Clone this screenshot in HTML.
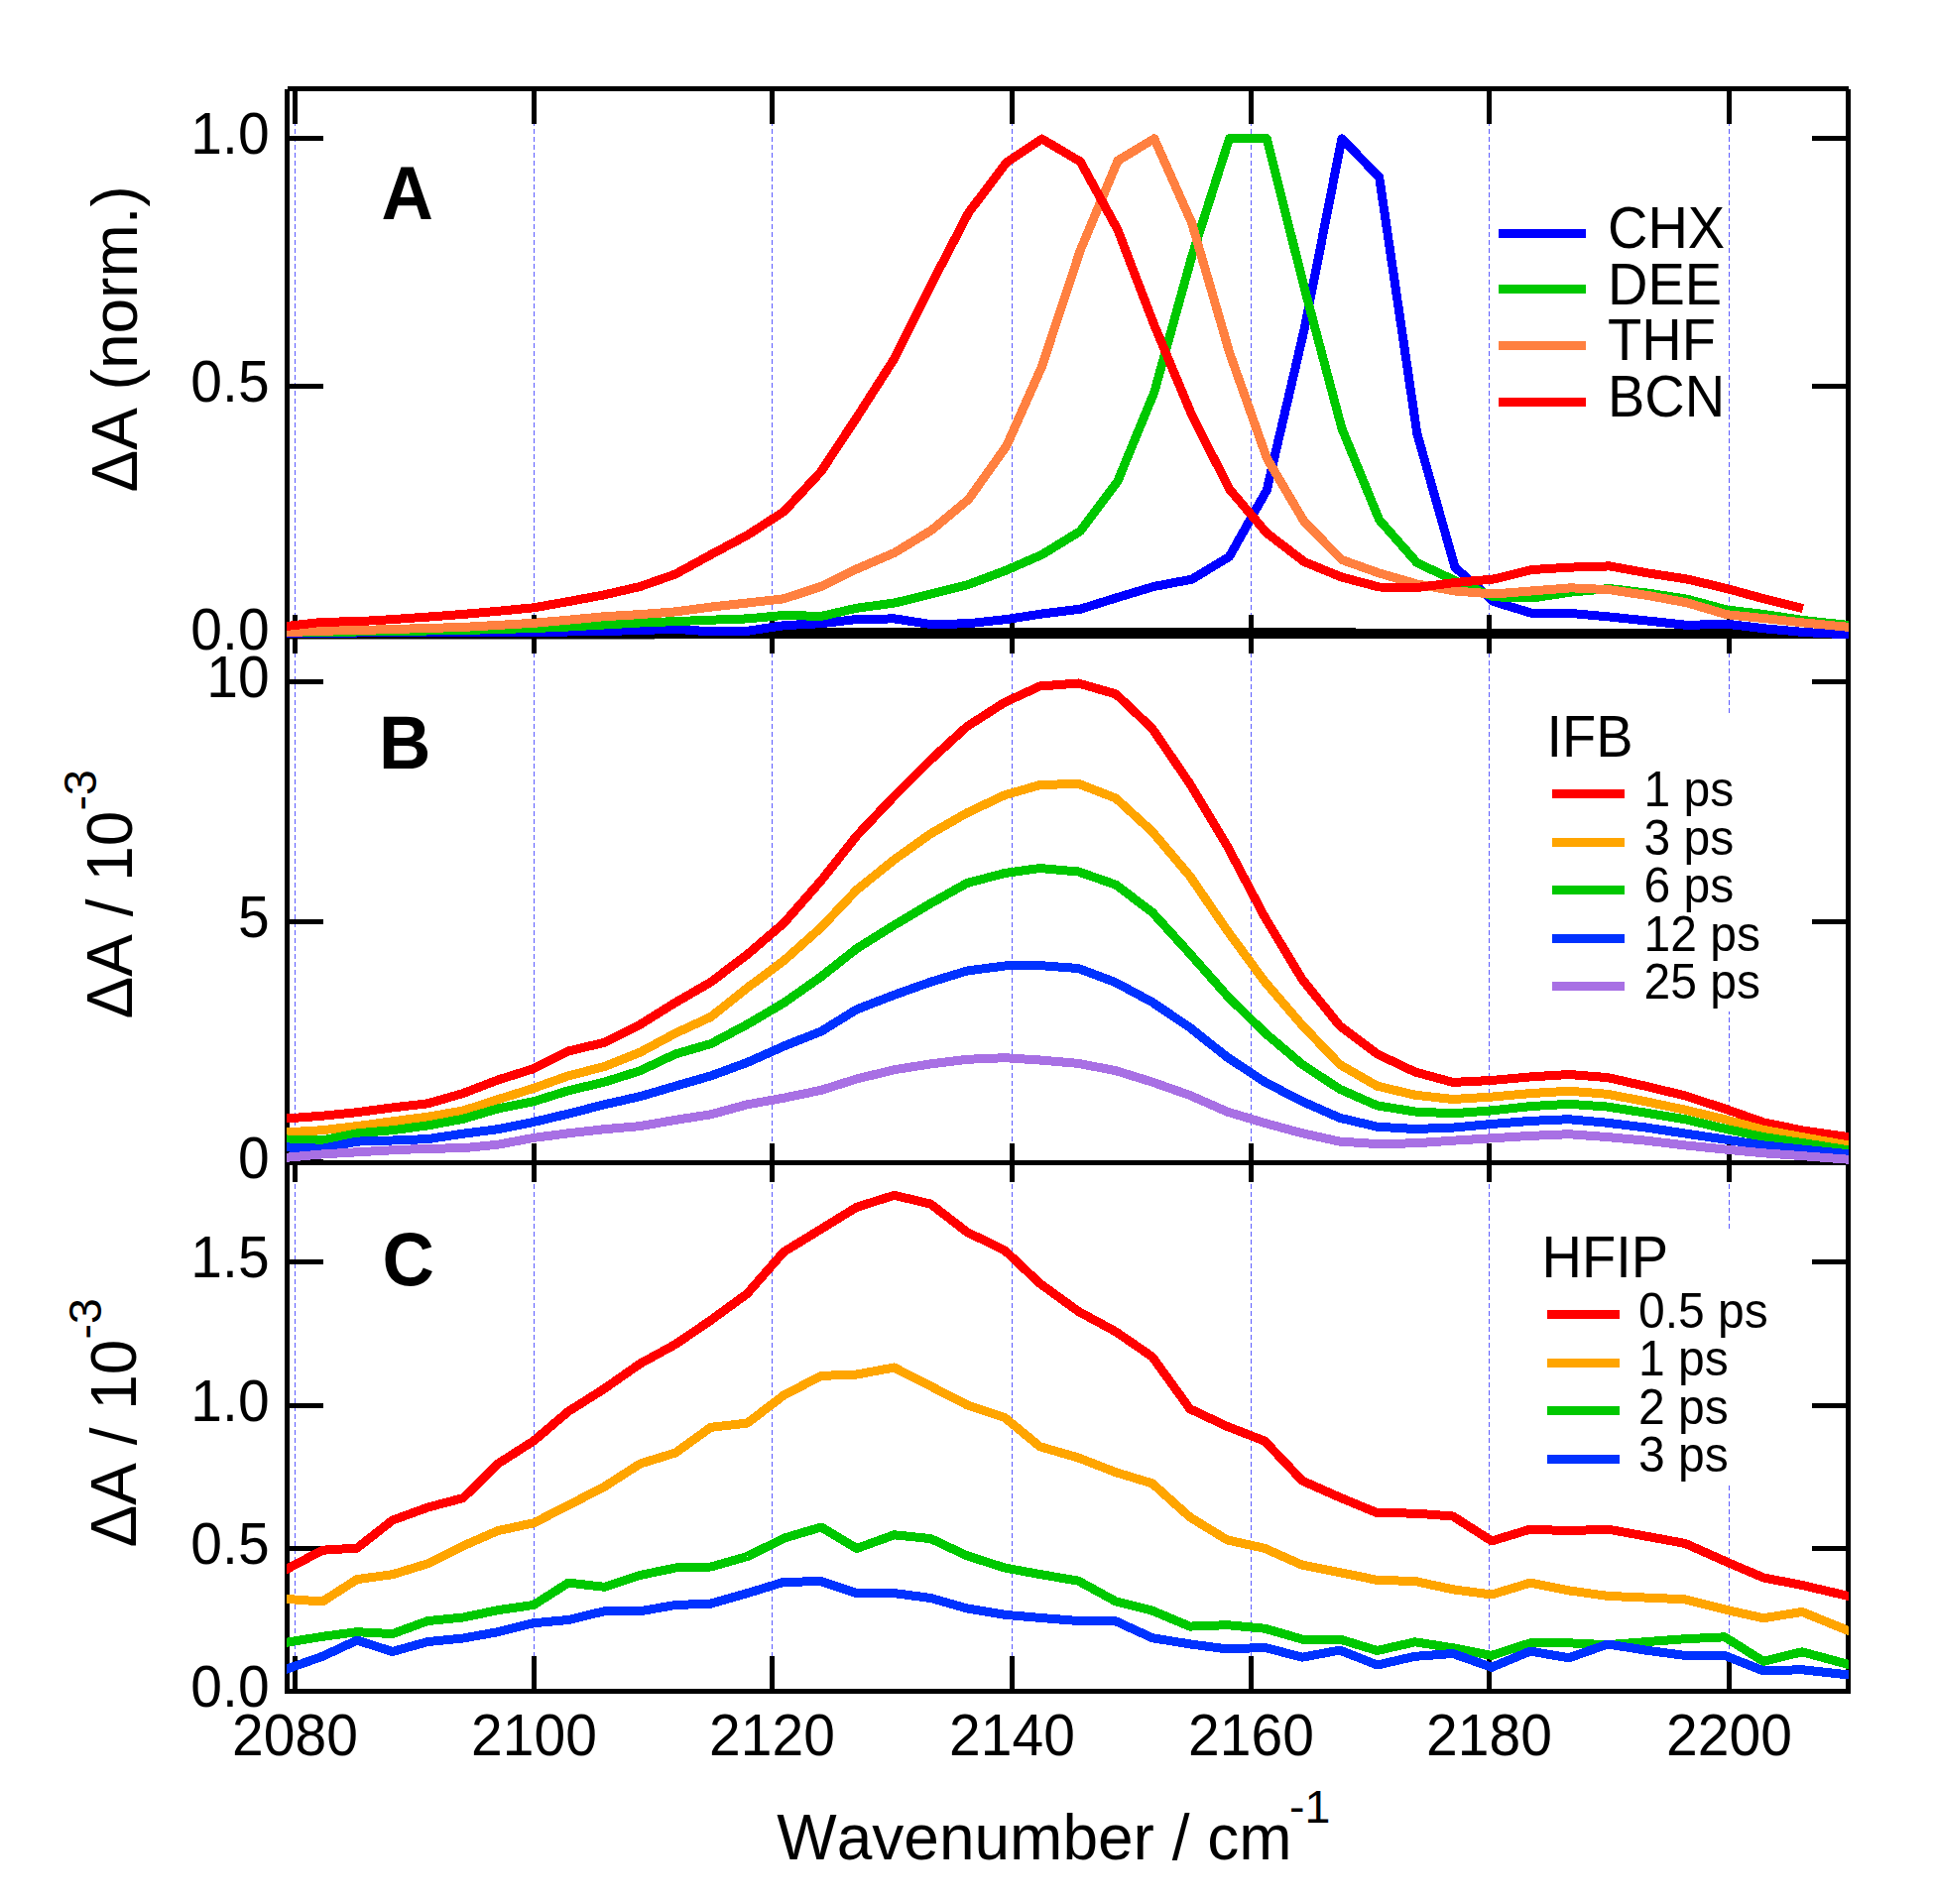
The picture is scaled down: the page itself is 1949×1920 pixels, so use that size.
<!DOCTYPE html>
<html lang="en"><head><meta charset="utf-8"><title>Transient IR spectra</title>
<style>html,body{margin:0;padding:0;background:#fff}svg{display:block}text{font-kerning:none;font-family:"Liberation Sans",Arial,Helvetica,sans-serif;fill:#000}</style>
</head><body>
<svg width="1949" height="1920" viewBox="0 0 1949 1920">
<rect width="1949" height="1920" fill="#fff"/>
<defs>
<clipPath id="cpA"><rect x="289.0" y="89.5" width="1575.0" height="555.0"/></clipPath>
<clipPath id="cpB"><rect x="289.0" y="641.5" width="1575.0" height="534.0"/></clipPath>
<clipPath id="cpC"><rect x="289.0" y="1172.5" width="1575.0" height="536.0"/></clipPath>
</defs>
<g stroke="#5c5cff" stroke-width="1" stroke-dasharray="5 3" shape-rendering="crispEdges">
<line x1="297.5" y1="90" x2="297.5" y2="1705.5"/>
<line x1="538.5" y1="90" x2="538.5" y2="1705.5"/>
<line x1="778.5" y1="90" x2="778.5" y2="1705.5"/>
<line x1="1020.5" y1="90" x2="1020.5" y2="1705.5"/>
<line x1="1261.5" y1="90" x2="1261.5" y2="1705.5"/>
<line x1="1501.5" y1="90" x2="1501.5" y2="1705.5"/>
<line x1="1743.5" y1="90" x2="1743.5" y2="1705.5"/>
</g>
<rect x="1548" y="720" width="250" height="300" fill="#fff"/>
<rect x="1548" y="1241" width="250" height="255" fill="#fff"/>
<g stroke="#000" stroke-width="5" fill="none" shape-rendering="crispEdges">
<line x1="289.5" y1="89.5" x2="289.5" y2="1708.0"/>
<line x1="1863.5" y1="89.5" x2="1863.5" y2="1708.0"/>
<line x1="289.5" y1="89.5" x2="1863.5" y2="89.5"/>
<line x1="287.0" y1="1705.5" x2="1866.0" y2="1705.5"/>
<line x1="289.5" y1="641.5" x2="1863.5" y2="641.5"/>
<line x1="289.5" y1="1172.5" x2="1863.5" y2="1172.5"/>
<line x1="297.5" y1="89.5" x2="297.5" y2="125"/>
<line x1="297.5" y1="620" x2="297.5" y2="659"/>
<line x1="297.5" y1="1153" x2="297.5" y2="1192"/>
<line x1="297.5" y1="1670" x2="297.5" y2="1705.5"/>
<line x1="538.5" y1="89.5" x2="538.5" y2="125"/>
<line x1="538.5" y1="620" x2="538.5" y2="659"/>
<line x1="538.5" y1="1153" x2="538.5" y2="1192"/>
<line x1="538.5" y1="1670" x2="538.5" y2="1705.5"/>
<line x1="778.5" y1="89.5" x2="778.5" y2="125"/>
<line x1="778.5" y1="620" x2="778.5" y2="659"/>
<line x1="778.5" y1="1153" x2="778.5" y2="1192"/>
<line x1="778.5" y1="1670" x2="778.5" y2="1705.5"/>
<line x1="1020.5" y1="89.5" x2="1020.5" y2="125"/>
<line x1="1020.5" y1="620" x2="1020.5" y2="659"/>
<line x1="1020.5" y1="1153" x2="1020.5" y2="1192"/>
<line x1="1020.5" y1="1670" x2="1020.5" y2="1705.5"/>
<line x1="1261.5" y1="89.5" x2="1261.5" y2="125"/>
<line x1="1261.5" y1="620" x2="1261.5" y2="659"/>
<line x1="1261.5" y1="1153" x2="1261.5" y2="1192"/>
<line x1="1261.5" y1="1670" x2="1261.5" y2="1705.5"/>
<line x1="1501.5" y1="89.5" x2="1501.5" y2="125"/>
<line x1="1501.5" y1="620" x2="1501.5" y2="659"/>
<line x1="1501.5" y1="1153" x2="1501.5" y2="1192"/>
<line x1="1501.5" y1="1670" x2="1501.5" y2="1705.5"/>
<line x1="1743.5" y1="89.5" x2="1743.5" y2="125"/>
<line x1="1743.5" y1="620" x2="1743.5" y2="659"/>
<line x1="1743.5" y1="1153" x2="1743.5" y2="1192"/>
<line x1="1743.5" y1="1670" x2="1743.5" y2="1705.5"/>
<line x1="289.5" y1="139.5" x2="326" y2="139.5"/>
<line x1="1827" y1="139.5" x2="1863.5" y2="139.5"/>
<line x1="289.5" y1="389.5" x2="326" y2="389.5"/>
<line x1="1827" y1="389.5" x2="1863.5" y2="389.5"/>
<line x1="289.5" y1="639.5" x2="326" y2="639.5"/>
<line x1="1827" y1="639.5" x2="1863.5" y2="639.5"/>
<line x1="289.5" y1="687.5" x2="326" y2="687.5"/>
<line x1="1827" y1="687.5" x2="1863.5" y2="687.5"/>
<line x1="289.5" y1="929.5" x2="326" y2="929.5"/>
<line x1="1827" y1="929.5" x2="1863.5" y2="929.5"/>
<line x1="289.5" y1="1171.5" x2="326" y2="1171.5"/>
<line x1="1827" y1="1171.5" x2="1863.5" y2="1171.5"/>
<line x1="289.5" y1="1272.5" x2="326" y2="1272.5"/>
<line x1="1827" y1="1272.5" x2="1863.5" y2="1272.5"/>
<line x1="289.5" y1="1417.5" x2="326" y2="1417.5"/>
<line x1="1827" y1="1417.5" x2="1863.5" y2="1417.5"/>
<line x1="289.5" y1="1561.5" x2="326" y2="1561.5"/>
<line x1="1827" y1="1561.5" x2="1863.5" y2="1561.5"/>
</g>
<g clip-path="url(#cpA)" shape-rendering="crispEdges">
<polyline points="285.0,640.0 660.0,640.0 850.0,637.3 1240.0,637.3 1420.0,638.3 1868.0,638.8" fill="none" stroke="#000" stroke-width="9" stroke-linejoin="round" stroke-linecap="butt"/>
<polyline points="284.5,638.4 289.5,638.5 325.2,639.0 360.0,638.0 395.7,637.5 431.3,637.5 467.0,637.5 502.0,637.5 538.2,637.5 573.0,637.0 609.5,636.5 645.5,635.5 681.0,634.3 716.7,636.9 753.5,636.3 790.3,630.7 828.0,628.7 863.8,624.5 902.1,623.9 939.4,629.7 976.6,628.7 1015.0,624.5 1050.5,619.0 1089.3,614.2 1127.1,602.4 1163.8,591.4 1201.7,584.2 1239.5,561.4 1277.3,494.2 1315.1,332.1 1352.9,139.8 1390.7,178.7 1428.8,437.2 1467.0,572.1 1506.0,606.6 1545.0,618.5 1584.0,618.5 1623.0,622.0 1662.0,626.1 1701.0,630.4 1741.0,629.2 1780.0,633.9 1819.0,637.5 1863.5,639.9 1868.5,640.2" fill="none" stroke="#0000ff" stroke-width="9" stroke-linejoin="round" stroke-linecap="butt"/>
<polyline points="284.5,638.1 289.5,638.0 325.2,637.5 360.0,637.0 395.7,636.5 431.3,636.0 467.0,635.5 502.0,634.5 538.2,633.5 573.0,632.0 609.5,630.0 645.5,628.0 681.0,626.6 716.7,625.2 753.5,623.9 790.3,620.4 828.0,621.4 863.8,613.2 902.1,608.0 939.4,598.7 976.6,589.4 1015.0,574.9 1050.5,559.4 1089.3,535.5 1127.1,484.9 1163.8,395.5 1201.7,258.6 1239.5,139.8 1277.3,139.8 1315.1,290.1 1352.9,432.0 1390.7,524.2 1428.8,567.6 1467.0,585.5 1506.0,601.8 1545.0,603.0 1584.0,597.1 1623.0,593.5 1662.0,598.2 1701.0,604.2 1741.0,614.9 1780.0,619.7 1819.0,625.6 1863.5,630.4 1868.5,630.9" fill="none" stroke="#00c800" stroke-width="9" stroke-linejoin="round" stroke-linecap="butt"/>
<polyline points="284.5,637.8 289.5,637.6 325.2,636.2 360.0,635.6 395.7,634.5 431.3,633.5 467.0,632.4 502.0,630.4 538.2,628.3 573.0,625.2 609.5,621.7 645.5,619.6 681.0,616.9 716.7,612.1 753.5,608.0 790.3,603.8 828.0,591.4 863.8,573.8 902.1,557.3 939.4,534.5 976.6,503.5 1015.0,449.5 1050.5,369.5 1089.3,252.3 1127.1,162.0 1163.8,139.8 1201.7,225.0 1239.5,355.0 1277.3,462.0 1315.1,526.2 1352.9,564.5 1390.7,578.0 1428.8,589.0 1467.0,596.0 1506.0,599.0 1545.0,595.9 1584.0,592.8 1623.0,594.7 1662.0,600.6 1701.0,607.8 1741.0,619.7 1780.0,623.7 1819.0,628.0 1863.5,632.3 1868.5,632.8" fill="none" stroke="#ff8040" stroke-width="9" stroke-linejoin="round" stroke-linecap="butt"/>
<polyline points="284.5,632.0 289.5,631.4 325.2,627.3 360.0,626.7 395.7,624.6 431.3,622.1 467.0,619.4 502.0,616.3 538.2,612.8 573.0,606.6 609.5,599.8 645.5,591.5 681.0,579.0 716.7,559.4 753.5,539.7 790.3,515.9 828.0,475.3 863.8,421.0 902.1,361.0 939.4,285.9 976.6,214.5 1015.0,163.6 1050.5,140.0 1089.3,163.0 1127.1,232.0 1163.8,327.9 1201.7,418.5 1239.5,493.1 1277.3,537.6 1315.1,566.6 1352.9,582.1 1390.7,592.0 1428.8,592.5 1467.0,587.5 1506.0,584.0 1545.0,574.5 1584.0,572.1 1623.0,570.9 1662.0,578.0 1701.0,584.0 1741.0,593.5 1780.0,604.2 1817.9,613.7" fill="none" stroke="#ff0000" stroke-width="9" stroke-linejoin="round" stroke-linecap="butt"/>
</g>
<g clip-path="url(#cpB)" shape-rendering="crispEdges">
<polyline points="284.5,1128.3 289.5,1127.9 325.2,1125.2 360.0,1121.7 395.7,1116.9 431.3,1112.8 467.0,1102.5 502.0,1089.0 538.2,1077.6 573.0,1060.0 609.5,1051.3 645.5,1033.1 681.0,1011.0 716.7,990.3 753.5,962.5 790.3,931.0 828.0,887.9 863.8,842.8 901.6,802.9 938.4,766.1 975.1,732.5 1013.0,708.3 1048.5,692.0 1087.3,689.0 1125.1,699.9 1161.8,734.6 1199.7,790.3 1237.5,853.3 1275.3,925.0 1313.1,987.7 1350.9,1034.5 1388.7,1063.0 1426.8,1081.0 1465.0,1091.4 1504.0,1089.5 1543.0,1085.9 1582.0,1083.5 1621.0,1086.6 1660.0,1095.4 1699.0,1104.9 1739.0,1118.0 1778.0,1131.8 1817.0,1139.9 1863.5,1146.6 1868.5,1147.3" fill="none" stroke="#ff0000" stroke-width="9" stroke-linejoin="round" stroke-linecap="butt"/>
<polyline points="284.5,1142.1 289.5,1141.8 325.2,1139.7 360.0,1135.6 395.7,1130.8 431.3,1126.2 467.0,1120.0 502.0,1108.7 538.2,1097.3 573.0,1084.9 609.5,1075.5 645.5,1061.1 681.0,1042.0 716.7,1025.5 753.5,996.1 790.3,968.8 828.0,935.2 863.8,897.4 901.6,866.9 938.4,840.7 975.1,819.7 1013.0,801.8 1048.5,791.6 1087.3,790.3 1125.1,805.0 1161.8,838.6 1199.7,883.4 1237.5,938.6 1275.3,990.0 1313.1,1034.0 1350.9,1073.5 1388.7,1095.2 1426.8,1104.2 1465.0,1108.5 1504.0,1106.1 1543.0,1102.6 1582.0,1100.2 1621.0,1103.3 1660.0,1110.9 1699.0,1119.2 1739.0,1128.7 1778.0,1139.4 1817.0,1146.6 1863.5,1154.9 1868.5,1155.8" fill="none" stroke="#ffa500" stroke-width="9" stroke-linejoin="round" stroke-linecap="butt"/>
<polyline points="284.5,1148.9 289.5,1149.0 325.2,1150.0 360.0,1142.8 395.7,1139.7 431.3,1134.9 467.0,1128.3 502.0,1118.0 538.2,1110.7 573.0,1099.8 609.5,1091.1 645.5,1079.7 681.0,1063.0 716.7,1052.6 753.5,1033.0 790.3,1011.3 828.0,984.8 863.8,956.6 901.6,933.0 938.4,911.0 975.1,890.5 1013.0,880.5 1048.5,875.5 1087.3,879.0 1125.1,892.2 1161.8,920.0 1199.7,961.6 1237.5,1004.3 1275.3,1041.5 1313.1,1073.5 1350.9,1098.3 1388.7,1114.9 1426.8,1121.0 1465.0,1122.8 1504.0,1119.9 1543.0,1115.6 1582.0,1113.3 1621.0,1116.1 1660.0,1122.3 1699.0,1128.7 1739.0,1138.2 1778.0,1146.6 1817.0,1152.5 1863.5,1159.7 1868.5,1160.5" fill="none" stroke="#00c800" stroke-width="9" stroke-linejoin="round" stroke-linecap="butt"/>
<polyline points="284.5,1156.7 289.5,1156.9 325.2,1158.3 360.0,1151.1 395.7,1150.0 431.3,1148.6 467.0,1143.2 502.0,1138.7 538.2,1131.4 573.0,1123.1 609.5,1113.8 645.5,1105.6 681.0,1095.2 716.7,1084.9 753.5,1071.4 790.3,1055.0 828.0,1040.0 863.8,1017.9 901.6,1003.3 938.4,990.2 975.1,979.0 1013.0,974.0 1048.5,973.6 1087.3,976.5 1125.1,990.8 1161.8,1010.6 1199.7,1036.2 1237.5,1066.2 1275.3,1091.1 1313.1,1110.7 1350.9,1127.3 1388.7,1136.2 1426.8,1138.5 1465.0,1137.1 1504.0,1133.5 1543.0,1130.4 1582.0,1128.7 1621.0,1132.3 1660.0,1137.1 1699.0,1143.0 1739.0,1149.0 1778.0,1154.9 1817.0,1159.0 1863.5,1163.7 1868.5,1164.2" fill="none" stroke="#0032ff" stroke-width="9" stroke-linejoin="round" stroke-linecap="butt"/>
<polyline points="284.5,1167.7 289.5,1167.2 325.2,1163.9 360.0,1161.8 395.7,1159.8 431.3,1158.3 467.0,1157.7 502.0,1154.2 538.2,1147.4 573.0,1142.8 609.5,1138.7 645.5,1135.6 681.0,1129.4 716.7,1123.8 753.5,1113.8 790.3,1107.2 828.0,1099.3 863.8,1088.0 901.6,1078.7 938.4,1072.9 975.1,1068.3 1013.0,1066.7 1048.5,1069.0 1087.3,1072.4 1125.1,1079.7 1161.8,1091.1 1199.7,1104.5 1237.5,1121.1 1275.3,1132.5 1313.1,1142.8 1350.9,1151.1 1388.7,1153.6 1426.8,1152.8 1465.0,1150.2 1504.0,1147.8 1543.0,1145.4 1582.0,1143.7 1621.0,1146.6 1660.0,1150.2 1699.0,1154.9 1739.0,1159.0 1778.0,1162.8 1817.0,1165.6 1863.5,1169.2 1868.5,1169.6" fill="none" stroke="#a870e4" stroke-width="9" stroke-linejoin="round" stroke-linecap="butt"/>
</g>
<g clip-path="url(#cpC)" shape-rendering="crispEdges">
<polyline points="284.5,1584.7 289.5,1582.1 325.2,1563.2 360.0,1561.1 395.7,1533.1 431.3,1520.1 467.0,1510.6 502.0,1476.0 538.2,1452.9 573.0,1423.4 609.5,1400.3 645.5,1375.1 681.0,1355.6 716.7,1331.3 753.5,1304.5 790.3,1262.4 828.0,1239.3 863.8,1217.3 901.6,1205.3 938.4,1214.1 975.1,1242.5 1013.0,1260.8 1048.5,1294.3 1087.3,1322.4 1125.1,1342.9 1161.8,1368.2 1199.7,1420.7 1237.5,1438.5 1275.3,1453.2 1313.1,1493.2 1350.9,1510.0 1388.7,1525.7 1426.8,1526.1 1465.0,1529.0 1504.0,1554.0 1543.0,1542.1 1582.0,1543.7 1621.0,1542.1 1660.0,1549.2 1699.0,1556.4 1739.0,1574.2 1778.0,1590.9 1817.0,1598.5 1863.5,1609.4 1868.5,1610.6" fill="none" stroke="#ff0000" stroke-width="9" stroke-linejoin="round" stroke-linecap="butt"/>
<polyline points="284.5,1612.1 289.5,1612.5 325.2,1615.0 360.0,1592.6 395.7,1587.7 431.3,1576.8 467.0,1558.9 502.0,1543.6 538.2,1535.8 573.0,1518.0 609.5,1499.1 645.5,1476.0 681.0,1465.0 716.7,1439.3 753.5,1435.1 790.3,1407.0 828.0,1387.4 863.8,1386.0 901.6,1379.0 938.4,1397.9 975.1,1416.8 1013.0,1429.5 1048.5,1458.7 1087.3,1470.0 1125.1,1484.7 1161.8,1495.9 1199.7,1529.9 1237.5,1553.0 1275.3,1561.4 1313.1,1578.2 1350.9,1585.6 1388.7,1593.4 1426.8,1594.5 1465.0,1602.8 1504.0,1608.0 1543.0,1596.1 1582.0,1603.9 1621.0,1609.4 1660.0,1611.1 1699.0,1612.8 1739.0,1623.0 1778.0,1631.8 1817.0,1625.4 1863.5,1644.4 1868.5,1646.4" fill="none" stroke="#ffa500" stroke-width="9" stroke-linejoin="round" stroke-linecap="butt"/>
<polyline points="284.5,1657.0 289.5,1656.2 325.2,1650.3 360.0,1645.7 395.7,1647.6 431.3,1634.6 467.0,1631.0 502.0,1623.7 538.2,1618.4 573.0,1596.1 609.5,1600.3 645.5,1588.4 681.0,1581.0 716.7,1580.0 753.5,1569.5 790.3,1551.2 828.0,1540.0 863.8,1561.5 901.6,1547.8 938.4,1551.6 975.1,1568.8 1013.0,1581.0 1048.5,1587.5 1087.3,1594.2 1125.1,1614.9 1161.8,1624.2 1199.7,1640.1 1237.5,1638.7 1275.3,1642.2 1313.1,1653.1 1350.9,1653.1 1388.7,1664.5 1426.8,1655.8 1465.0,1661.8 1504.0,1669.4 1543.0,1656.8 1582.0,1656.8 1621.0,1658.7 1660.0,1655.6 1699.0,1652.7 1739.0,1650.8 1778.0,1675.3 1817.0,1665.8 1863.5,1678.4 1868.5,1679.8" fill="none" stroke="#00c800" stroke-width="9" stroke-linejoin="round" stroke-linecap="butt"/>
<polyline points="284.5,1684.7 289.5,1682.9 325.2,1670.3 360.0,1654.1 395.7,1665.5 431.3,1655.6 467.0,1652.0 502.0,1645.7 538.2,1636.7 573.0,1633.5 609.5,1624.7 645.5,1624.7 681.0,1618.5 716.7,1617.1 753.5,1606.6 790.3,1595.3 828.0,1594.7 863.8,1606.6 901.6,1606.6 938.4,1611.5 975.1,1622.0 1013.0,1628.3 1048.5,1631.4 1087.3,1634.5 1125.1,1634.9 1161.8,1651.7 1199.7,1657.9 1237.5,1662.9 1275.3,1661.4 1313.1,1671.2 1350.9,1664.1 1388.7,1679.0 1426.8,1670.3 1465.0,1667.5 1504.0,1681.3 1543.0,1665.1 1582.0,1671.8 1621.0,1658.0 1660.0,1664.2 1699.0,1669.4 1739.0,1669.4 1778.0,1684.9 1817.0,1683.7 1863.5,1688.9 1868.5,1689.5" fill="none" stroke="#0032ff" stroke-width="9" stroke-linejoin="round" stroke-linecap="butt"/>
</g>
<g font-size="57" text-anchor="end">
<text transform="translate(271.6,154.9) scale(1,1.035)">1.0</text>
<text transform="translate(271.6,404.9) scale(1,1.035)">0.5</text>
<text transform="translate(271.6,654.9) scale(1,1.035)">0.0</text>
<text transform="translate(271.6,702.9) scale(1,1.035)">10</text>
<text transform="translate(271.6,944.9) scale(1,1.035)">5</text>
<text transform="translate(271.6,1188.2) scale(1,1.035)">0</text>
<text transform="translate(271.6,1287.9) scale(1,1.035)">1.5</text>
<text transform="translate(271.6,1432.9) scale(1,1.035)">1.0</text>
<text transform="translate(271.6,1576.9) scale(1,1.035)">0.5</text>
<text transform="translate(271.6,1720.9) scale(1,1.035)">0.0</text>
</g>
<g font-size="57" text-anchor="middle">
<text transform="translate(297.5,1769.5) scale(1,1.035)">2080</text>
<text transform="translate(538.5,1769.5) scale(1,1.035)">2100</text>
<text transform="translate(778.5,1769.5) scale(1,1.035)">2120</text>
<text transform="translate(1020.5,1769.5) scale(1,1.035)">2140</text>
<text transform="translate(1261.5,1769.5) scale(1,1.035)">2160</text>
<text transform="translate(1501.5,1769.5) scale(1,1.035)">2180</text>
<text transform="translate(1743.5,1769.5) scale(1,1.035)">2200</text>
</g>
<text x="783.3" y="1874.5" font-size="64">Wavenumber / cm<tspan font-size="46.5" dx="-2.5" dy="-36.5">-1</tspan></text>
<text transform="translate(137.9,496.6) rotate(-90)" font-size="64">ΔA (norm.)</text>
<text transform="translate(132.8,1027.5) rotate(-90)" font-size="64">ΔA / 10<tspan font-size="46.5" dy="-35.5">-3</tspan></text>
<text transform="translate(137,1560.5) rotate(-90)" font-size="64">ΔA / 10<tspan font-size="46.5" dy="-35.5">-3</tspan></text>
<g font-size="72.5" font-weight="bold">
<text transform="translate(384.5,221) scale(1,1.04)">A</text>
<text transform="translate(382,775) scale(1,1.04)">B</text>
<text transform="translate(385.4,1296) scale(1,1.04)">C</text>
</g>
<g shape-rendering="crispEdges">
<rect x="1511" y="231" width="88" height="9" fill="#0000ff"/>
<rect x="1511" y="287" width="88" height="9" fill="#00c800"/>
<rect x="1511" y="344" width="88" height="9" fill="#ff8040"/>
<rect x="1511" y="401" width="88" height="9" fill="#ff0000"/>
<rect x="1565" y="796" width="73" height="9" fill="#ff0000"/>
<rect x="1565" y="845" width="73" height="9" fill="#ffa500"/>
<rect x="1565" y="893" width="73" height="9" fill="#00c800"/>
<rect x="1565" y="942" width="73" height="9" fill="#0032ff"/>
<rect x="1565" y="990" width="73" height="9" fill="#a870e4"/>
<rect x="1560" y="1321" width="73" height="9" fill="#ff0000"/>
<rect x="1560" y="1370" width="73" height="9" fill="#ffa500"/>
<rect x="1560" y="1418" width="73" height="9" fill="#00c800"/>
<rect x="1560" y="1467" width="73" height="9" fill="#0032ff"/>
</g>
<g font-size="56">
<text transform="translate(1621,249.9) scale(1,1.045)">CHX</text>
<text transform="translate(1621,306.6) scale(1,1.045)">DEE</text>
<text transform="translate(1621,363.3) scale(1,1.045)">THF</text>
<text transform="translate(1621,420.0) scale(1,1.045)">BCN</text>
<text transform="translate(1559.4,763) scale(1,1.045)">IFB</text>
<text transform="translate(1554.5,1287.8) scale(1,1.045)">HFIP</text>
</g>
<g font-size="48">
<text transform="translate(1657.5,813.3) scale(1,1.04)">1 ps</text>
<text transform="translate(1657.5,861.8) scale(1,1.04)">3 ps</text>
<text transform="translate(1657.5,910.3) scale(1,1.04)">6 ps</text>
<text transform="translate(1657.5,958.8) scale(1,1.04)">12 ps</text>
<text transform="translate(1657.5,1007.3) scale(1,1.04)">25 ps</text>
<text transform="translate(1652,1338.5) scale(1,1.04)">0.5 ps</text>
<text transform="translate(1652,1387.1) scale(1,1.04)">1 ps</text>
<text transform="translate(1652,1435.7) scale(1,1.04)">2 ps</text>
<text transform="translate(1652,1484.3) scale(1,1.04)">3 ps</text>
</g>
</svg></body></html>
